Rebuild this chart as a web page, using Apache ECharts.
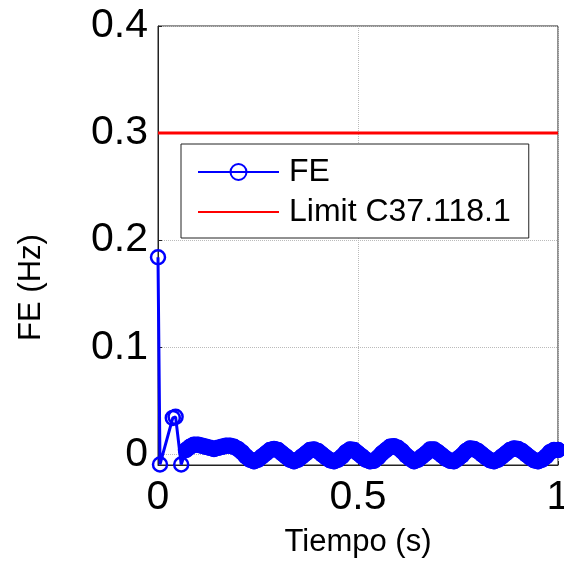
<!DOCTYPE html>
<html>
<head>
<meta charset="utf-8">
<script src="https://cdn.jsdelivr.net/npm/echarts@6/dist/echarts.min.js"></script>
<style>
  html, body { margin: 0; padding: 0; background: #fff; }
  #main { width: 564px; height: 567px; }
</style>
</head>
<body>
<div id="main"></div>
<script>
// tiempo (s) y error de frecuencia (Hz)
var tiempo = [0, 0.005, 0.037, 0.044, 0.058,
  0.07, 0.08, 0.09, 0.10, 0.11, 0.12, 0.13, 0.14, 0.15, 0.16, 0.17, 0.18, 0.19, 0.20,
  0.21, 0.22, 0.23, 0.24, 0.25, 0.26, 0.27, 0.28, 0.29, 0.30,
  0.31, 0.32, 0.33, 0.34, 0.35, 0.36, 0.37, 0.38, 0.39, 0.40,
  0.41, 0.42, 0.43, 0.44, 0.45, 0.46, 0.47, 0.48, 0.49, 0.50,
  0.51, 0.52, 0.53, 0.54, 0.55, 0.56, 0.57, 0.58, 0.59, 0.60,
  0.61, 0.62, 0.63, 0.64, 0.65, 0.66, 0.67, 0.68, 0.69, 0.70,
  0.71, 0.72, 0.73, 0.74, 0.75, 0.76, 0.77, 0.78, 0.79, 0.80,
  0.81, 0.82, 0.83, 0.84, 0.85, 0.86, 0.87, 0.88, 0.89, 0.90,
  0.91, 0.92, 0.93, 0.94, 0.95, 0.96, 0.97, 0.98, 0.99, 1.00];
var fe = [0.184, -0.0095, 0.034, 0.035, -0.0095,
  0.004, 0.007, 0.009, 0.009, 0.008, 0.007, 0.006, 0.005, 0.006, 0.007, 0.008, 0.008, 0.007, 0.005,
  0.002, -0.002, -0.005, -0.0065, -0.005, -0.002, 0.001, 0.004, 0.005, 0.004,
  0.001, -0.002, -0.005, -0.0065, -0.005, -0.002, 0.001, 0.004, 0.0045, 0.003,
  0.000, -0.003, -0.0055, -0.0065, -0.005, -0.002, 0.002, 0.0045, 0.004, 0.001,
  -0.002, -0.005, -0.0065, -0.006, -0.003, 0.001, 0.004, 0.007, 0.0075, 0.006,
  0.003, -0.001, -0.004, -0.0065, -0.005, -0.002, 0.001, 0.0045, 0.0045, 0.002,
  -0.001, -0.004, -0.006, -0.0065, -0.004, -0.001, 0.003, 0.0055, 0.005, 0.003,
  0.000, -0.003, -0.0055, -0.0065, -0.005, -0.002, 0.001, 0.004, 0.0055, 0.005,
  0.003, 0.000, -0.003, -0.0055, -0.0065, -0.005, -0.002, 0.002, 0.004, 0.004];
var limiteT = [0, 1];
var limite = [0.3, 0.3];
var yTicks = [0, 0.1, 0.2, 0.3, 0.4];

var feData = tiempo.map(function (t, i) { return [t, fe[i]]; });
// tramo oscilante (muestras densas -> banda continua)
var bandaData = feData.slice(5);
var limData = limiteT.map(function (t, i) { return [t, limite[i]]; });

var font = 'Liberation Sans, Arial, sans-serif';
var myChart = echarts.init(document.getElementById('main'));
var option = {
    animation: false,
    grid: {
        left: 158, right: 6, top: 26, bottom: 102,
        outerBoundsMode: 'none',
        show: true, borderColor: '#222', borderWidth: 1, backgroundColor: '#fff'
    },
    legend: {
        orient: 'vertical',
        left: 181, top: 144,
        padding: [11, 18, 9, 16],
        itemWidth: 81, itemHeight: 20, itemGap: 6,
        backgroundColor: '#fff',
        borderColor: '#222', borderWidth: 1,
        textStyle: { fontFamily: font, fontSize: 32, color: '#000', lineHeight: 34, padding: [0, 0, 0, 5] },
        data: ['FE', 'Limit C37.118.1']
    },
    xAxis: {
        type: 'value', min: 0, max: 1, interval: 0.5,
        name: 'Tiempo (s)', nameLocation: 'middle', nameGap: 62,
        nameTextStyle: { fontFamily: font, fontSize: 31, color: '#000' },
        axisLine: { show: true, onZero: false, lineStyle: { color: '#222' } },
        axisTick: { show: true, inside: true, length: 4, lineStyle: { color: '#222' } },
        axisLabel: { fontFamily: font, fontSize: 41, color: '#000', margin: 12 },
        splitLine: { show: true, lineStyle: { color: '#bbb', type: 'dotted' } }
    },
    yAxis: {
        type: 'value', min: -0.01, max: 0.4,
        name: 'FE (Hz)', nameLocation: 'middle', nameGap: 111,
        nameTextStyle: { fontFamily: font, fontSize: 31, color: '#000', padding: [0, 84, 0, 0] },
        axisLine: { show: true, lineStyle: { color: '#222' } },
        axisTick: { show: true, inside: true, length: 4, customValues: yTicks, lineStyle: { color: '#222' } },
        axisLabel: { fontFamily: font, fontSize: 41, color: '#000', margin: 10, customValues: yTicks },
        splitLine: { show: true, lineStyle: { color: '#bbb', type: 'dotted' } }
    },
    series: [
        {
            name: 'FE',
            type: 'line',
            data: feData,
            clip: false,
            symbol: 'circle',
            symbolSize: 14,
            showAllSymbol: true,
            itemStyle: { color: 'rgba(0,0,0,0)', borderColor: '#0000ff', borderWidth: 2.5 },
            lineStyle: { color: '#0000ff', width: 3 },
            z: 3
        },
        {
            name: 'FE banda',
            type: 'line',
            data: bandaData,
            clip: false,
            symbol: 'none',
            lineStyle: { color: '#0000ff', width: 16, cap: 'round', join: 'round' },
            z: 3
        },
        {
            name: 'Limit C37.118.1',
            type: 'line',
            data: limData,
            symbol: 'none',
            itemStyle: { color: 'rgba(0,0,0,0)' },
            lineStyle: { color: '#ff0000', width: 3 },
            z: 2
        }
    ]
};
myChart.setOption(option);
</script>
</body>
</html>
